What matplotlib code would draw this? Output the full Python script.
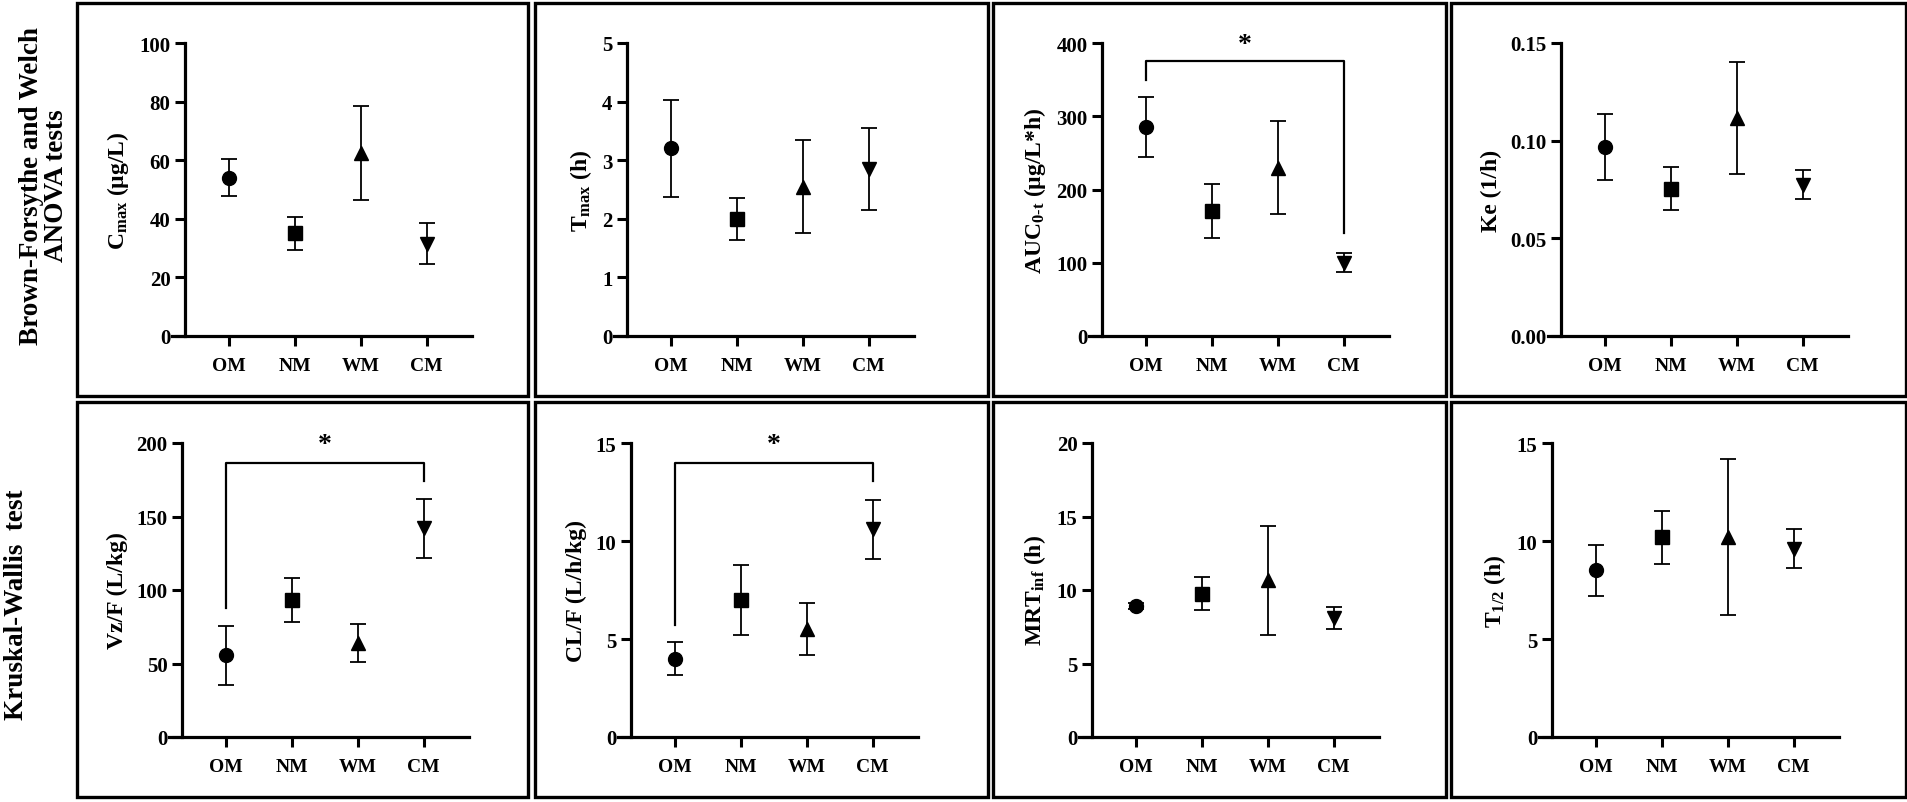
import matplotlib
matplotlib.use('Agg')
import matplotlib.pyplot as plt
from matplotlib.patches import Rectangle
from matplotlib.ticker import MultipleLocator, FormatStrFormatter

plt.rcParams['font.family'] = ['Liberation Serif', 'DejaVu Serif']
plt.rcParams['font.weight'] = 'bold'
plt.rcParams['mathtext.fontset'] = 'custom'
plt.rcParams['mathtext.rm'] = 'Liberation Serif'
plt.rcParams['mathtext.bf'] = 'Liberation Serif:bold'
plt.rcParams['mathtext.it'] = 'Liberation Serif:italic'

# groups and marker shapes
groups = ['OM', 'NM', 'WM', 'CM']
markers = ['o', 's', '^', 'v']

# mean values and error bars
cmax_mean = [54.0, 35.0, 62.5, 31.5]
cmax_err = [6.3, 5.5, 16.0, 7.0]
tmax_mean = [3.2, 2.0, 2.55, 2.85]
tmax_err = [0.82, 0.36, 0.8, 0.7]
auc_mean = [285.5, 170.5, 230.0, 100.0]
auc_err = [41.0, 37.0, 63.0, 13.0]
ke_mean = [0.0967, 0.0753, 0.1116, 0.0774]
ke_err = [0.0167, 0.011, 0.0287, 0.0075]
vzf_mean = [55.5, 93.5, 64.0, 142.0]
vzf_err = [20.0, 15.0, 13.0, 20.0]
clf_mean = [4.0, 7.0, 5.5, 10.6]
clf_err = [0.83, 1.8, 1.32, 1.5]
mrt_mean = [8.9, 9.75, 10.65, 8.1]
mrt_err = [0.2, 1.13, 3.7, 0.75]
thalf_mean = [8.5, 10.2, 10.2, 9.6]
thalf_err = [1.3, 1.35, 4.0, 1.0]

# significance brackets OM vs CM: (left leg end, top, right leg end, star y)
auc_sig = (350, 375, 140, 398)
vzf_sig = (88, 186.5, 174, 199)
clf_sig = (5.7, 14.0, 13.05, 14.9)

panels = [
    (0, 0, r'C$_{\rm max}$ (µg/L)', cmax_mean, cmax_err, 100, 20, '%d', None),
    (0, 1, r'T$_{\rm max}$ (h)', tmax_mean, tmax_err, 5, 1, '%d', None),
    (0, 2, r'AUC$_{\mathbf{0\text{-}t}}$ (µg/L*h)', auc_mean, auc_err, 400, 100, '%d', auc_sig),
    (0, 3, 'Ke (1/h)', ke_mean, ke_err, 0.15, 0.05, '%.2f', None),
    (1, 0, 'Vz/F (L/kg)', vzf_mean, vzf_err, 200, 50, '%d', vzf_sig),
    (1, 1, 'CL/F (L/h/kg)', clf_mean, clf_err, 15, 5, '%d', clf_sig),
    (1, 2, r'MRT$_{\rm inf}$ (h)', mrt_mean, mrt_err, 20, 5, '%d', None),
    (1, 3, r'T$_{\mathbf{1/2}}$ (h)', thalf_mean, thalf_err, 15, 5, '%d', None),
]

W, H = 1908, 803
fig = plt.figure(figsize=(W / 100, H / 100), dpi=100)

# layout in pixels
box_x = [(77, 528), (535, 988), (993, 1446), (1451, 1906)]
box_y = [(4, 397), (403, 798)]
spine_x = [[185, 627, 1102, 1561], [182, 631, 1092, 1552]]
plot_y = [(44, 337), (444, 738)]
step_px = 66
xlo, xspine, xhi = -0.85, -0.66, 3.69

for (x0, x1) in box_x:
    for (y0, y1) in box_y:
        fig.add_artist(Rectangle((x0 / W, 1 - y1 / H), (x1 - x0) / W, (y1 - y0) / H,
                                 transform=fig.transFigure, fill=False,
                                 lw=2.4, ec='black'))

for row, col, ylabel, mean, err, ymax, step, fmt, sig in panels:
    sx = spine_x[row][col]
    left = sx + (xlo - xspine) * step_px
    width = (xhi - xlo) * step_px
    top, bot = plot_y[row]
    ax = fig.add_axes([left / W, 1 - bot / H, width / W, (bot - top) / H])

    for i in range(len(groups)):
        ax.errorbar(i, mean[i], yerr=err[i], fmt=markers[i], color='black',
                    ms=10, capsize=6, capthick=1.3, elinewidth=1.3, clip_on=False)

    ax.set_xlim(xlo, xhi)
    ax.set_ylim(0, ymax)
    ax.spines['left'].set_position(('data', xspine))
    ax.spines['top'].set_visible(False)
    ax.spines['right'].set_visible(False)
    for s in ['left', 'bottom']:
        ax.spines[s].set_linewidth(2.3)
    ax.set_xticks(range(len(groups)))
    ax.set_xticklabels(groups, fontsize=14, fontweight='bold')
    ax.yaxis.set_major_locator(MultipleLocator(step))
    ax.yaxis.set_major_formatter(FormatStrFormatter(fmt))
    ax.tick_params(axis='both', width=2.2, length=7, labelsize=15)
    ax.tick_params(axis='x', pad=8, labelsize=14)
    ax.set_ylabel(ylabel, fontsize=17, fontweight='bold', labelpad=6)

    if sig is not None:
        l_end, top_y, r_end, star_y = sig
        ax.plot([0, 0, 3, 3], [l_end, top_y, top_y, r_end], color='black',
                lw=1.6, clip_on=False)
        ax.text(1.5, star_y, '*', ha='center', va='center', fontsize=20,
                fontweight='bold', clip_on=False)

fig.text(44 / W, 1 - 186 / H, 'Brown-Forsythe and Welch\nANOVA tests', rotation=90,
         ha='center', va='center', multialignment='center', fontsize=19.5,
         fontweight='bold', linespacing=0.95)
fig.text(17 / W, 1 - 605 / H, 'Kruskal-Wallis  test', rotation=90,
         ha='center', va='center', fontsize=19.5, fontweight='bold')

fig.savefig('out.png', dpi=100, facecolor='white')
